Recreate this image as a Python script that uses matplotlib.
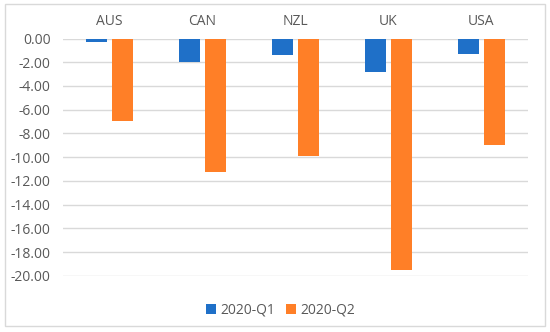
import numpy as np
import matplotlib.pyplot as plt
from matplotlib.patches import Rectangle

# Data
countries = ["AUS", "CAN", "NZL", "UK", "USA"]
q1 = [-0.30, -1.98, -1.40, -2.82, -1.27]
q2 = [-6.95, -11.27, -9.90, -19.47, -8.97]
series_names = ["2020-Q1", "2020-Q2"]
yticks = np.arange(0, -21, -2)

plt.rcParams['font.family'] = ['Open Sans', 'DejaVu Sans']
grey = '#595959'

fig = plt.figure(figsize=(5.5, 3.32), dpi=100)
ax = fig.add_axes([0.1145, 0.169, 0.8455, 0.715])

x = np.arange(len(countries))
w = 0.23
ax.bar(x - 0.142, q1, width=w, color='#1F70C8', label=series_names[0], zorder=3)
ax.bar(x + 0.142, q2, width=w, color='#FF7F27', label=series_names[1], zorder=3)

ax.set_xlim(-0.5, len(countries) - 0.5)
ax.set_ylim(-20, 0)
ax.set_yticks(yticks)
ax.set_yticklabels([f"{v:.2f}" for v in yticks], color=grey, fontsize=10)
ax.grid(axis='y', color='#D9D9D9', linewidth=1, zorder=0)
ax.set_axisbelow(True)

ax.xaxis.tick_top()
ax.set_xticks(x)
ax.set_xticklabels(countries, color=grey, fontsize=10)
ax.tick_params(axis='x', length=0, pad=7)
ax.tick_params(axis='y', length=0, pad=9)
for s in ax.spines.values():
    s.set_visible(False)

fig.legend(loc='lower center', bbox_to_anchor=(0.51, 0.005), ncol=2, frameon=False,
           handlelength=0.7, handleheight=0.7, handletextpad=0.3, columnspacing=0.8,
           labelcolor=grey, fontsize=10)

# chart border
fig.patches.append(Rectangle((0.009, 0.018), 0.981, 0.97, transform=fig.transFigure,
                             fill=False, edgecolor='#D9D9D9', linewidth=1))

fig.savefig("out.png", dpi=100)
